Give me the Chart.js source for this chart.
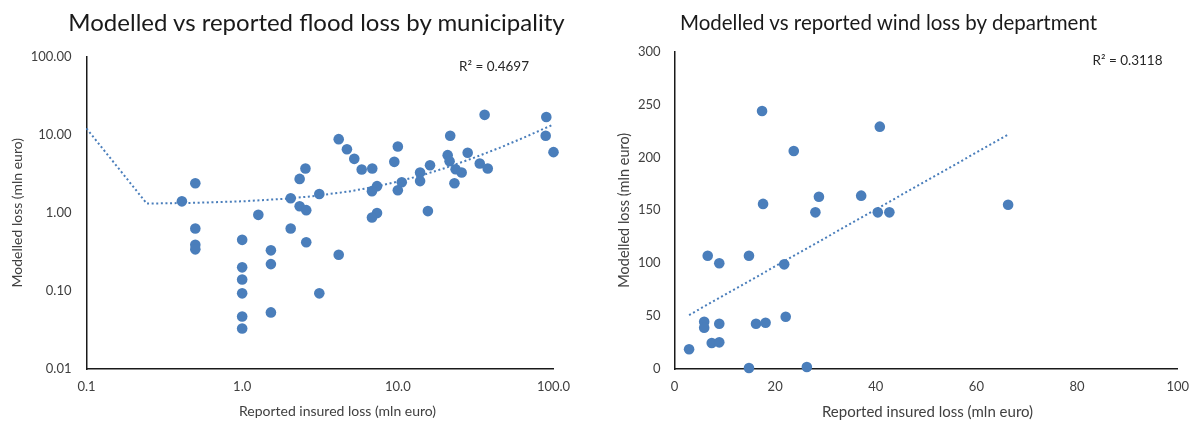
<!DOCTYPE html>
<html>
<head>
<meta charset="utf-8">
<script src="https://cdn.jsdelivr.net/npm/chart.js@4.4.1/dist/chart.umd.min.js"></script>
<style>
  html, body { margin: 0; padding: 0; background: #fff; }
  body { width: 1199px; height: 425px; position: relative; overflow: hidden; font-family: Lato, "Open Sans", sans-serif; }
  .panel { position: absolute; top: 0; height: 425px; }
  #floodPanel { left: 0; width: 600px; }
  #windPanel { left: 599px; width: 600px; }
  .lbl { position: absolute; transform: translate(-50%, -50%); white-space: nowrap; line-height: 1.2; }
  .title { color: #1a1a1a; }
  .axt { color: #404040; font-size: 14px; }
  .rsq { font-size: 13.5px; color: #262626; }
</style>
</head>
<body>
<div class="panel" id="floodPanel"><canvas id="flood" width="600" height="425"></canvas></div>
<div class="panel" id="windPanel"><canvas id="wind" width="600" height="425"></canvas></div>

<div class="lbl title" style="left:316.5px; top:22px; font-size:24px">Modelled vs reported flood loss by municipality</div>
<div class="lbl title" style="left:888.5px; top:22px; font-size:20.5px">Modelled vs reported wind loss by department</div>

<div class="lbl axt" style="left:337.5px; top:411px">Reported insured loss (mln euro)</div>
<div class="lbl axt" style="left:927.5px; top:411px; font-size:15px">Reported insured loss (mln euro)</div>

<div class="lbl rsq" style="left:494px; top:65.5px">R² = 0.4697</div>
<div class="lbl rsq" style="left:1127.5px; top:59.5px">R² = 0.3118</div>

<script>
// Flood: reported insured loss vs modelled loss per municipality (mln euro)
const floodReported = [0.50, 0.41, 0.50, 0.50, 0.50, 1.0, 1.0, 1.0, 1.0, 1.0, 1.0,
  1.27, 1.53, 1.53, 1.53, 2.05, 2.05, 2.34, 2.55, 2.34, 2.58, 2.58, 3.13, 3.13,
  4.17, 4.17, 4.71, 5.25, 5.86, 6.85, 7.35, 6.82, 7.35, 6.82, 10.0, 9.49, 10.6, 10.0,
  15.6, 13.9, 13.9, 16.1, 21.7, 20.9, 21.5, 23.5, 25.7, 23.1, 28.1, 33.6, 37.8, 36.1,
  89.9, 89.1, 100];
const floodModelled = [2.39, 1.40, 0.63, 0.39, 0.34, 0.45, 0.20, 0.14, 0.093, 0.047, 0.033,
  0.94, 0.33, 0.22, 0.053, 1.53, 0.63, 2.71, 3.69, 1.21, 1.08, 0.42, 1.74, 0.093,
  0.29, 8.75, 6.5, 4.9, 3.58, 3.69, 2.19, 1.89, 0.99, 0.87, 7.06, 4.48, 2.46, 1.94,
  1.05, 3.27, 2.54, 4.06, 9.66, 5.46, 4.57, 3.61, 3.27, 2.39, 5.85, 4.27, 3.69, 17.9,
  16.8, 9.66, 5.97];
// Linear trendline as it appears on the log-log axes
const floodTrendX = [0.1, 0.244, 0.5, 1, 2, 3, 5, 7, 10, 15, 20, 30, 45, 65, 100];
const floodTrendY = [12.0, 1.31, 1.34, 1.40, 1.52, 1.65, 1.89, 2.14, 2.50, 3.11, 3.72, 4.95, 6.78, 9.22, 13.5];
const floodXTicks = [0.1, 1, 10, 100];
const floodXLabels = ['0.1', '1.0', '10.0', '100.0'];
const floodYTicks = [0.01, 0.1, 1, 10, 100];
const floodYLabels = ['0.01', '0.10', '1.00', '10.00', '100.00'];

// Wind: reported insured loss vs modelled loss per department (mln euro)
const windReported = [17.4, 40.8, 23.7, 17.6, 28.7, 28.0, 37.1, 40.4, 42.7, 66.3,
  6.6, 8.9, 14.8, 21.8, 22.1, 5.9, 5.9, 8.9, 16.2, 18.1, 7.4, 8.9, 2.9, 14.8, 26.3];
const windModelled = [243.8, 229, 206, 156, 162.8, 148, 163.8, 148, 148, 155.2,
  107, 99.9, 107, 98.9, 49.4, 44.7, 39, 42.8, 42.8, 43.7, 24.6, 25.2, 18.6, 0.9, 1.9];
const windTrendX = [2.9, 66.4];
const windTrendY = [51, 221.8];
const windXTicks = [0, 20, 40, 60, 80, 100];
const windYTicks = [0, 50, 100, 150, 200, 250, 300];

const BLUE = '#4a7ebb';
const TICK_COLOR = '#404040';
const FONT = 'Lato, "Open Sans", sans-serif';

function pairs(xs, ys) { return xs.map((x, i) => ({ x: x, y: ys[i] })); }

function axis(cfg) {
  return {
    type: cfg.type,
    position: cfg.position,
    min: cfg.min,
    max: cfg.max,
    grid: { display: false, drawTicks: false },
    border: { display: true, color: '#1a1a1a', width: 1.5 },
    ticks: {
      color: TICK_COLOR,
      font: { family: FONT, size: 13 },
      padding: cfg.tickPad,
      autoSkip: false,
      maxRotation: 0,
      callback: (v, i) => cfg.labels ? cfg.labels[i] : String(v)
    },
    title: cfg.title ? {
      display: true,
      text: cfg.title,
      color: TICK_COLOR,
      font: { family: FONT, size: cfg.titleSize || 14 },
      padding: cfg.titlePad
    } : { display: false },
    afterBuildTicks: s => { s.ticks = cfg.ticks.map(v => ({ value: v })); },
    afterFit: s => { if (cfg.width !== undefined) s.width = cfg.width; if (cfg.height !== undefined) s.height = cfg.height; }
  };
}

function makeChart(id, pts, trend, xAxis, yAxis, pad) {
  return new Chart(document.getElementById(id), {
    type: 'scatter',
    data: {
      datasets: [
        {
          data: trend, showLine: true, pointRadius: 0, borderColor: BLUE,
          borderWidth: 2, borderDash: [2, 2.6], tension: 0, fill: false, clip: false
        },
        {
          data: pts, pointRadius: 5.3, pointHoverRadius: 5.3,
          backgroundColor: BLUE, borderWidth: 0, clip: false
        }
      ]
    },
    options: {
      responsive: false,
      animation: false,
      events: [],
      layout: { padding: pad },
      plugins: { legend: { display: false }, tooltip: { enabled: false }, title: { display: false } },
      scales: { x: xAxis, y: yAxis }
    }
  });
}

makeChart('flood', pairs(floodReported, floodModelled), pairs(floodTrendX, floodTrendY),
  axis({ type: 'logarithmic', position: 'bottom', min: 0.1, max: 100, ticks: floodXTicks, labels: floodXLabels,
         tickPad: 10, height: 56 }),
  axis({ type: 'logarithmic', position: 'left', min: 0.01, max: 100, ticks: floodYTicks, labels: floodYLabels,
         tickPad: 15, width: 86.5, title: 'Modelled loss (mln euro)', titlePad: { top: 9, bottom: 0 } }),
  { top: 56.5, right: 46.5, left: 0, bottom: 0 });

makeChart('wind', pairs(windReported, windModelled), pairs(windTrendX, windTrendY),
  axis({ type: 'linear', position: 'bottom', min: 0, max: 100, ticks: windXTicks,
         tickPad: 10, height: 56 }),
  axis({ type: 'linear', position: 'left', min: 0, max: 300, ticks: windYTicks,
         tickPad: 14, width: 75.5, title: 'Modelled loss (mln euro)', titleSize: 14.5, titlePad: { top: 16.5, bottom: 0 } }),
  { top: 51.5, right: 20.5, left: 0, bottom: 0 });
</script>
</body>
</html>
